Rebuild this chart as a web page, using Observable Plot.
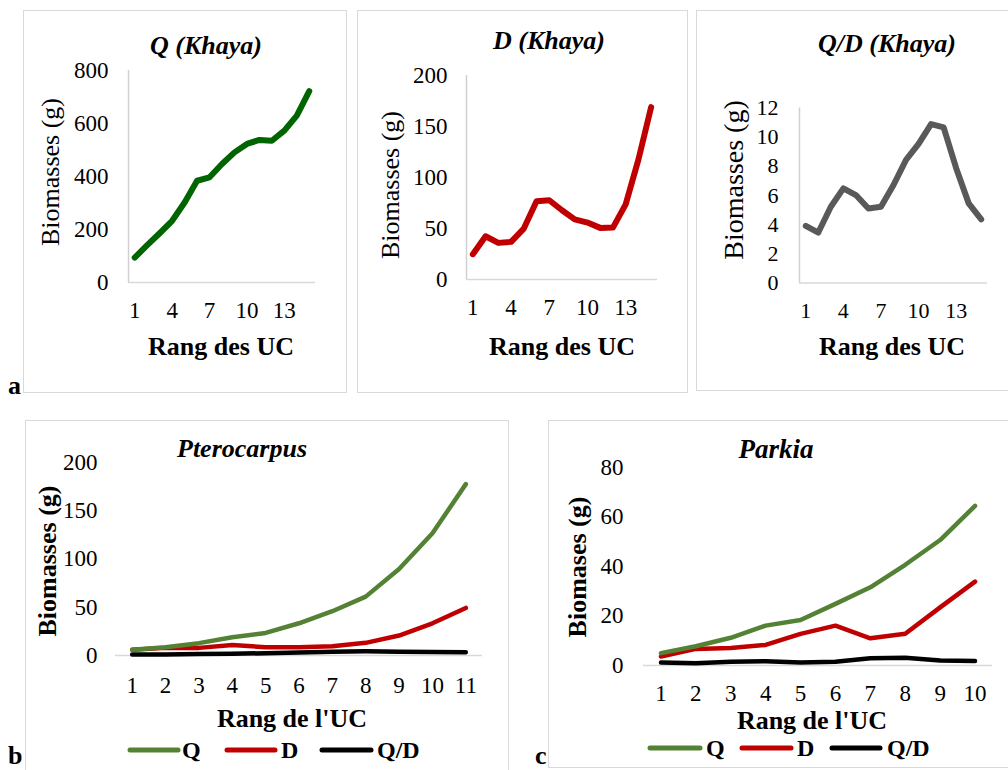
<!DOCTYPE html>
<html><head><meta charset="utf-8">
<script src="https://cdn.jsdelivr.net/npm/d3@7"></script>
<script src="https://cdn.jsdelivr.net/npm/@observablehq/plot@0.6"></script>
<style>
body{margin:0;background:#fff;}
#root{position:relative;width:1008px;height:770px;overflow:hidden;font-family:"Liberation Serif","Times New Roman",serif;background:#fff;}
.box{position:absolute;border:1.5px solid #d9d9d9;box-sizing:border-box;}
.pl{position:absolute;}
#overlay{position:absolute;left:0;top:0;pointer-events:none;}
</style></head><body><div id="root"></div>
<script>
// ---- Data ----
const rangKhaya = [1,2,3,4,5,6,7,8,9,10,11,12,13,14,15];
const khayaQ = [94,141,186,233,302,384,397,447,491,523,538,535,573,630,722];
const khayaD = [24.8,42.4,35.9,36.9,49.9,76.7,77.7,67.9,59,55.8,50.6,50.9,73.7,117.5,169];
const khayaQD = [3.92,3.46,5.23,6.49,6.03,5.11,5.23,6.72,8.44,9.54,10.9,10.67,7.87,5.46,4.36];
const khayaTicks = [1,4,7,10,13];

const rangPtero = [1,2,3,4,5,6,7,8,9,10,11];
const pteroQ = [5.9,8.6,12.8,19,23.4,33.4,45.9,61,89.7,126.6,177.6];
const pteroD = [5.9,7.9,7.9,11,8.6,8.6,9.7,13.1,20.7,33.4,49.3];
const pteroQD = [1,1.1,1.5,1.8,2.4,3,4,4.3,4,3.7,3.4];

const rangParkia = [1,2,3,4,5,6,7,8,9,10];
const parkiaQ = [5,7.8,11.2,16.1,18.4,24.9,31.6,40.7,50.7,64.5];
const parkiaD = [3.6,6.7,7.1,8.3,12.8,16.1,11,12.8,23.5,33.9];
const parkiaQD = [1.2,0.9,1.5,1.7,1.2,1.5,2.9,3.1,2,1.8];

const seriesNames = ["Q","D","Q/D"];
const colGreen = "#548235", colRed = "#c00000", colBlack = "#000000";

// ---- Helpers ----
const root = document.getElementById("root");
function box(l,t,w,h){const d=document.createElement("div");d.className="box";Object.assign(d.style,{left:l+"px",top:t+"px",width:w+"px",height:h+"px"});root.appendChild(d);}
function rows(xs,ys){return xs.map((x,i)=>({x,y:ys[i]}));}

function panel(o){
  const marks=[];
  marks.push(Plot.ruleY([0],{stroke:"#d9d9d9",strokeWidth:1.5}));
  if(o.yAxisLine) marks.push(Plot.ruleX([o.xDomain[0]],{stroke:"#d0d0d0",strokeWidth:1.5}));
  marks.push(Plot.axisY({ticks:o.yTicks,tickSize:0,tickPadding:o.padY,fontSize:o.fs,tickFormat:d3.format("d")}));
  marks.push(Plot.axisX({ticks:o.xTicks,tickSize:0,tickPadding:o.padX,fontSize:o.fs,tickFormat:d3.format("d")}));
  for(const s of o.series){
    marks.push(Plot.line(rows(s.x,s.y),{x:"x",y:"y",stroke:s.color,strokeWidth:o.sw,strokeLinejoin:"round",strokeLinecap:"round"}));
  }
  const p=Plot.plot({
    width:o.width,height:o.height,
    marginLeft:o.ml,marginRight:o.mr,marginTop:o.mt,marginBottom:o.mb,
    x:{domain:o.xDomain,label:null},
    y:{domain:o.yDomain,label:null},
    style:{fontFamily:"'Liberation Serif','Times New Roman',serif",color:"#000",background:"transparent",overflow:"visible"},
    marks
  });
  p.classList.add("pl");
  p.style.left=o.left+"px";p.style.top=o.top+"px";
  root.appendChild(p);
}

// ---- Boxes ----
box(23,10,324,383);
box(357,10,331,383);
box(696,10,330,381);
box(25,420,484,370);
box(548,420,480,348);

// ---- Panels ----
panel({left:23,top:10,width:324,height:383,ml:105,mr:32,mt:60,mb:111,
  xDomain:[0.5,15.5],xTicks:khayaTicks,yDomain:[0,800],yTicks:[0,200,400,600,800],
  padY:20,padX:19,fs:23,sw:6,yAxisLine:true,
  series:[{x:rangKhaya,y:khayaQ,color:"#006400"}]});
panel({left:357,top:10,width:331,height:383,ml:109,mr:31,mt:65,mb:114,
  xDomain:[0.5,15.5],xTicks:khayaTicks,yDomain:[0,200],yTicks:[0,50,100,150,200],
  padY:19,padX:19,fs:23,sw:6,yAxisLine:true,
  series:[{x:rangKhaya,y:khayaD,color:colRed}]});
panel({left:696,top:10,width:312,height:383,ml:103,mr:21,mt:97.5,mb:110.5,
  xDomain:[0.5,15.5],xTicks:khayaTicks,yDomain:[0,12],yTicks:[0,2,4,6,8,10,12],
  padY:21,padX:19,fs:22,sw:6,yAxisLine:true,
  series:[{x:rangKhaya,y:khayaQD,color:"#595959"}]});
panel({left:25,top:420,width:484,height:350,ml:90,mr:27,mt:42,mb:115,
  xDomain:[0.5,11.5],xTicks:rangPtero,yDomain:[0,200],yTicks:[0,50,100,150,200],
  padY:18,padX:21,fs:23,sw:4.5,yAxisLine:false,
  series:[{x:rangPtero,y:pteroQD,color:colBlack},{x:rangPtero,y:pteroD,color:colRed},{x:rangPtero,y:pteroQ,color:colGreen}]});
panel({left:548,top:420,width:460,height:350,ml:95,mr:16,mt:47,mb:105,
  xDomain:[0.5,10.5],xTicks:rangParkia,yDomain:[0,80],yTicks:[0,20,40,60,80],
  padY:20,padX:19,fs:23,sw:4.5,yAxisLine:false,
  series:[{x:rangParkia,y:parkiaQD,color:colBlack},{x:rangParkia,y:parkiaD,color:colRed},{x:rangParkia,y:parkiaQ,color:colGreen}]});

// ---- Text overlay ----
const svg=d3.select(root).append("svg").attr("id","overlay").attr("width",1008).attr("height",770)
  .style("font-family","'Liberation Serif','Times New Roman',serif");
function txt(s,x,y,{size=24,weight="normal",style="normal",anchor="middle",rot=false,base="auto"}={}){
  const t=svg.append("text").attr("x",x).attr("y",y).text(s)
    .attr("font-size",size).attr("font-weight",weight).attr("font-style",style)
    .attr("text-anchor",anchor).attr("fill","#000");
  if(rot) t.attr("dominant-baseline","central").attr("transform",`rotate(-90,${x},${y})`);
  else if(base!=="auto") t.attr("dominant-baseline",base);
  return t;
}
// panel a
txt("Q (Khaya)",206,54,{size:26,weight:"bold",style:"italic"});
txt("Biomasses (g)",50,172,{size:26,rot:true});
txt("Rang des UC",221,355,{size:26,weight:"bold"});
txt("D (Khaya)",549,49,{size:26,weight:"bold",style:"italic"});
txt("Biomasses (g)",390,185,{size:26,rot:true});
txt("Rang des UC",562,355,{size:26,weight:"bold"});
txt("Q/D (Khaya)",887,52,{size:26,weight:"bold",style:"italic"});
txt("Biomasses (g)",733,180,{size:28,rot:true});
txt("Rang des UC",892,355,{size:26,weight:"bold"});
txt("a",8,394,{size:26,weight:"bold",anchor:"start"});
// panel b
txt("Pterocarpus",242,457,{size:26,weight:"bold",style:"italic"});
txt("Biomasses (g)",47,561,{size:26,weight:"bold",rot:true});
txt("Rang de l'UC",292,727,{size:26,weight:"bold"});
txt("b",8,764,{size:26,weight:"bold",anchor:"start"});
// panel c
txt("Parkia",776,458,{size:27,weight:"bold",style:"italic"});
txt("Biomases (g)",577,567,{size:26,weight:"bold",rot:true});
txt("Rang de l'UC",812,729,{size:26,weight:"bold"});
txt("c",535,764,{size:26,weight:"bold",anchor:"start"});

// legends
const legCols=[colGreen,colRed,colBlack];
function legend(items,y){
  items.forEach((it,i)=>{
    svg.append("line").attr("x1",it[0]).attr("x2",it[1]).attr("y1",y).attr("y2",y)
      .attr("stroke",legCols[i]).attr("stroke-width",5).attr("stroke-linecap","round");
    txt(seriesNames[i],it[2],y,{size:24,weight:"bold",anchor:"start",base:"central"});
  });
}
legend([[130,178,182],[227,275,281],[322,371,377]],750);
legend([[650,700,706],[742,791,797],[832,880,887]],748);
</script>
</body></html>
